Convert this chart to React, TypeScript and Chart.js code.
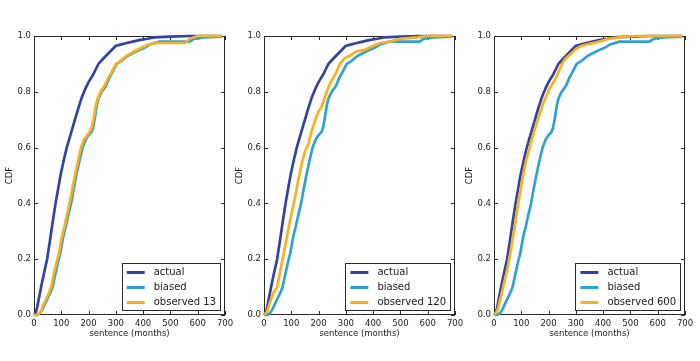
import React, { useEffect, useRef } from "react";
import { Chart, registerables } from "chart.js";

Chart.register(...registerables);

const FONT = "'DejaVu Sans', 'Liberation Sans', sans-serif";

const MONTH_TICKS = [0, 100, 200, 300, 400, 500, 600, 700];
const CDF_TICKS = [0, 0.2, 0.4, 0.6, 0.8, 1.0];

const X_TITLE = "sentence (months)";
const Y_TITLE = "CDF";

const COLOR_ACTUAL = "#3442a0";
const COLOR_BIASED = "#2fa2d2";
const COLOR_OBSERVED = "#f9b21e";

// actual distribution (same in all panels)
const ACTUAL_X = [0, 5, 10, 18, 28, 39, 48, 59, 68, 79, 88, 97, 108, 120, 135, 150, 162, 175, 190, 200, 208, 216, 226, 236, 250, 265, 285, 299, 320, 340, 354, 385, 415, 440, 500, 570, 690];
const ACTUAL_Y = [0, 0.005, 0.02, 0.06, 0.11, 0.16, 0.2, 0.27, 0.33, 0.4, 0.45, 0.5, 0.55, 0.6, 0.65, 0.7, 0.74, 0.78, 0.815, 0.835, 0.848, 0.86, 0.88, 0.9, 0.915, 0.93, 0.95, 0.964, 0.97, 0.975, 0.978, 0.985, 0.99, 0.995, 0.998, 1.0, 1.0];

// length-biased distribution (same in all panels)
const BIASED_X = [0, 12, 20, 24, 31, 40, 50, 60, 68, 79, 88, 96, 107, 117, 126, 136, 145, 155, 166, 178, 190, 200, 210, 216, 222, 230, 236, 248, 263, 276, 290, 303, 320, 342, 365, 391, 410, 425, 460, 570, 585, 620, 690];
const BIASED_Y = [0, 0, 0.005, 0.01, 0.02, 0.04, 0.06, 0.08, 0.1, 0.15, 0.19, 0.22, 0.28, 0.32, 0.36, 0.4, 0.45, 0.5, 0.55, 0.6, 0.63, 0.645, 0.655, 0.67, 0.7, 0.75, 0.775, 0.8, 0.82, 0.85, 0.875, 0.9, 0.91, 0.928, 0.94, 0.952, 0.96, 0.97, 0.98, 0.98, 0.99, 0.995, 0.998];

// observed after 13 months
const OBS13_X = [0, 10, 18, 22, 28, 36, 46, 55, 63, 73, 83, 91, 102, 112, 121, 130, 140, 150, 161, 172, 184, 196, 206, 212, 218, 226, 233, 244, 260, 272, 287, 300, 318, 340, 362, 388, 405, 420, 450, 555, 570, 600, 690];
const OBS13_Y = [0, 0, 0.005, 0.01, 0.02, 0.04, 0.06, 0.08, 0.1, 0.15, 0.19, 0.22, 0.28, 0.32, 0.36, 0.4, 0.45, 0.5, 0.55, 0.6, 0.63, 0.645, 0.66, 0.675, 0.7, 0.75, 0.775, 0.8, 0.825, 0.85, 0.875, 0.9, 0.912, 0.93, 0.942, 0.955, 0.963, 0.97, 0.975, 0.975, 0.99, 1.0, 1.0];

// observed after 120 months
const OBS120_X = [0, 10, 20, 35, 48, 58, 68, 78, 88, 98, 109, 119, 129, 140, 151, 162, 175, 188, 200, 210, 220, 230, 242, 254, 265, 278, 295, 315, 340, 370, 400, 425, 460, 498, 560, 596, 690];
const OBS120_Y = [0, 0.01, 0.04, 0.08, 0.1, 0.15, 0.2, 0.25, 0.3, 0.35, 0.4, 0.45, 0.5, 0.55, 0.59, 0.61, 0.66, 0.7, 0.73, 0.745, 0.77, 0.8, 0.83, 0.85, 0.87, 0.9, 0.92, 0.93, 0.945, 0.95, 0.965, 0.975, 0.98, 0.99, 0.995, 1.0, 1.0];

// observed after 600 months
const OBS600_X = [0, 5, 12, 25, 38, 49, 60, 70, 80, 89, 98, 106, 117, 129, 145, 161, 171, 181, 195, 202, 215, 226, 238, 250, 259, 280, 299, 318, 350, 379, 420, 460, 520, 690];
const OBS600_Y = [0, 0.005, 0.015, 0.065, 0.12, 0.164, 0.22, 0.283, 0.34, 0.403, 0.45, 0.498, 0.55, 0.594, 0.65, 0.701, 0.73, 0.761, 0.79, 0.809, 0.83, 0.847, 0.875, 0.9, 0.916, 0.935, 0.952, 0.964, 0.972, 0.978, 0.99, 0.995, 1.0, 1.0];

const OBS_LABELS = ["observed 13", "observed 120", "observed 600"];
const OBS_X = [OBS13_X, OBS120_X, OBS600_X];
const OBS_Y = [OBS13_Y, OBS120_Y, OBS600_Y];

const CANVAS_W = 245;
const CANVAS_H = 361;
const PANEL_STEP = 230;

function pts(xs: number[], ys: number[]) {
  return xs.map((x, i) => ({ x, y: ys[i] }));
}

const framePlugin = {
  id: "frameTicksLegend",
  beforeDatasetsDraw(chart: any) {
    const { ctx, chartArea: a, scales } = chart;
    ctx.save();
    ctx.strokeStyle = "#2a2a2a";
    ctx.lineWidth = 1;
    ctx.strokeRect(Math.round(a.left) + 0.5, Math.round(a.top) + 0.5, Math.round(a.width) - 1, Math.round(a.height) - 1);
    ctx.beginPath();
    const tl = 4;
    for (const t of scales.x.ticks) {
      const px = Math.round(scales.x.getPixelForValue(t.value)) + 0.5;
      ctx.moveTo(px, a.bottom);
      ctx.lineTo(px, a.bottom - tl);
      ctx.moveTo(px, a.top);
      ctx.lineTo(px, a.top + tl);
    }
    for (const t of scales.y.ticks) {
      const py = Math.round(scales.y.getPixelForValue(t.value)) + 0.5;
      ctx.moveTo(a.left, py);
      ctx.lineTo(a.left + tl, py);
      ctx.moveTo(a.right, py);
      ctx.lineTo(a.right - tl, py);
    }
    ctx.stroke();
    ctx.restore();
  },
  afterDatasetsDraw(chart: any) {
    const { ctx, chartArea: a } = chart;
    const ds = chart.data.datasets;
    ctx.save();
    ctx.font = `10px ${FONT}`;
    let maxW = 0;
    for (const d of ds) maxW = Math.max(maxW, ctx.measureText(d.label).width);
    const boxW = 32 + maxW + 4;
    const boxH = 47;
    const right = Math.round(a.right) - 5;
    const bottom = Math.round(a.bottom) - 5;
    const left = right - boxW;
    const top = bottom - boxH;
    ctx.fillStyle = "#ffffff";
    ctx.fillRect(left, top, boxW, boxH);
    ctx.strokeStyle = "#2a2a2a";
    ctx.lineWidth = 1;
    ctx.strokeRect(Math.round(left) + 0.5, top + 0.5, Math.round(boxW), boxH);
    ds.forEach((d: any, i: number) => {
      const cy = top + 9.5 + i * 15;
      ctx.strokeStyle = d.borderColor;
      ctx.lineWidth = 3;
      ctx.beginPath();
      ctx.moveTo(left + 5, cy);
      ctx.lineTo(left + 23, cy);
      ctx.stroke();
      ctx.fillStyle = "#1a1a1a";
      ctx.textBaseline = "middle";
      ctx.textAlign = "left";
      ctx.fillText(d.label, left + 32, cy);
    });
    ctx.restore();
  },
};

function Panel({ index }: { index: number }) {
  const ref = useRef<HTMLCanvasElement | null>(null);
  useEffect(() => {
    if (!ref.current) return;
    const common = { borderWidth: 2.7, pointRadius: 0, tension: 0, clip: false };
    const chart = new Chart(ref.current, {
      type: "line",
      data: {
        datasets: [
          { ...common, label: "actual", data: pts(ACTUAL_X, ACTUAL_Y), borderColor: COLOR_ACTUAL, order: 3 },
          { ...common, label: "biased", data: pts(BIASED_X, BIASED_Y), borderColor: COLOR_BIASED, order: 2 },
          {
            ...common,
            label: OBS_LABELS[index],
            data: pts(OBS_X[index], OBS_Y[index]),
            borderColor: COLOR_OBSERVED,
            order: 1,
          },
        ],
      },
      options: {
        responsive: false,
        animation: false,
        devicePixelRatio: 1,
        layout: { padding: { top: 36, right: CANVAS_W - 225, left: 0, bottom: 0 } },
        plugins: { legend: { display: false }, tooltip: { enabled: false } },
        scales: {
          x: {
            type: "linear",
            min: 0,
            max: 700,
            afterBuildTicks: (s: any) => {
              s.ticks = MONTH_TICKS.map((v) => ({ value: v }));
            },
            afterFit: (s: any) => {
              s.height = 46;
            },
            grid: { display: false, drawTicks: false },
            border: { display: false },
            ticks: {
              padding: 4,
              maxRotation: 0,
              autoSkip: false,
              color: "#1a1a1a",
              font: { family: FONT, size: 8.5 },
              callback: (v: any) => String(v),
            },
            title: {
              display: true,
              text: X_TITLE,
              color: "#1a1a1a",
              font: { family: FONT, size: 8.5 },
              padding: { top: 0, bottom: 22 },
            },
          },
          y: {
            type: "linear",
            min: 0,
            max: 1,
            afterBuildTicks: (s: any) => {
              s.ticks = CDF_TICKS.map((v) => ({ value: v }));
            },
            afterFit: (s: any) => {
              s.width = 34;
            },
            grid: { display: false, drawTicks: false },
            border: { display: false },
            ticks: {
              padding: 3,
              autoSkip: false,
              color: "#1a1a1a",
              font: { family: FONT, size: 8.5 },
              callback: (v: any) => Number(v).toFixed(1),
            },
            title: {
              display: true,
              text: Y_TITLE,
              color: "#1a1a1a",
              font: { family: FONT, size: 8.5 },
              padding: { top: 5, bottom: 0 },
            },
          },
        },
      },
      plugins: [framePlugin],
    } as any);
    return () => chart.destroy();
  }, [index]);
  return (
    <canvas
      ref={ref}
      width={CANVAS_W}
      height={CANVAS_H}
      style={{ position: "absolute", left: index * PANEL_STEP, top: 0, width: CANVAS_W, height: CANVAS_H }}
    />
  );
}

export default function App() {
  return (
    <div
      style={{
        position: "fixed",
        left: 0,
        top: 0,
        width: 700,
        height: 361,
        overflow: "hidden",
        background: "#ffffff",
      }}
    >
      {[0, 1, 2].map((i) => (
        <Panel key={i} index={i} />
      ))}
    </div>
  );
}
